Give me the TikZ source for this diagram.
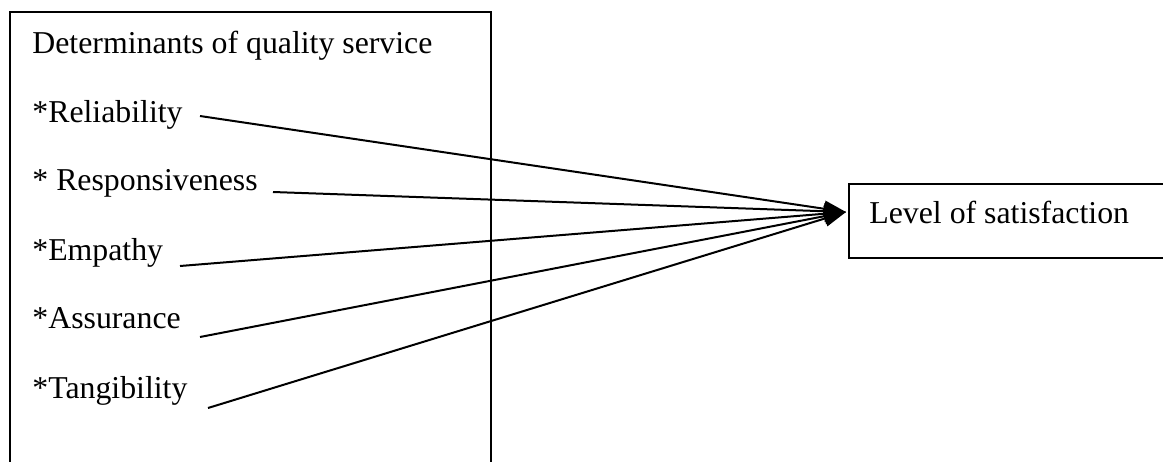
\documentclass[tikz,border=0pt]{standalone}
\usepackage{fontspec}
\setmainfont{Liberation Serif}
\usetikzlibrary{arrows.meta,positioning}

\begin{document}
\begin{tikzpicture}[x=0.5pt, y=-0.5pt, font=\fontsize{15.9}{19}\selectfont,
  lab/.style={anchor=base west, inner sep=0pt},
  link/.style={line width=1pt, -{Triangle[length=11pt,width=8pt]}}]
\useasboundingbox (0,0) rectangle (1163,461);
\clip (0,0) rectangle (1163,461);
\draw[line width=1pt] (10,12) rectangle (491,475);
\node[draw, line width=1pt, anchor=north west, minimum width=200pt, minimum height=37pt, inner sep=0pt] (satbox) at (848,183) {};
\node[lab] (sat) at (869,223) {Level of satisfaction};
\coordinate (tip) at (846,212);
\node[lab] (det) at (32,53) {Determinants of quality service};
\foreach \n/\txt/\y/\sx/\sy in {rel/*Reliability/122/200/116, res/* Responsiveness/190/273/192,
    emp/*Empathy/260/180/266, ass/*Assurance/328/200/337, tan/*Tangibility/398/208/408}{
  \node[lab] (\n) at (32,\y) {\txt};
  \coordinate (\n-s) at (\sx,\sy);
  \draw[link] (\n-s) -- (tip);
}
\end{tikzpicture}
\end{document}
